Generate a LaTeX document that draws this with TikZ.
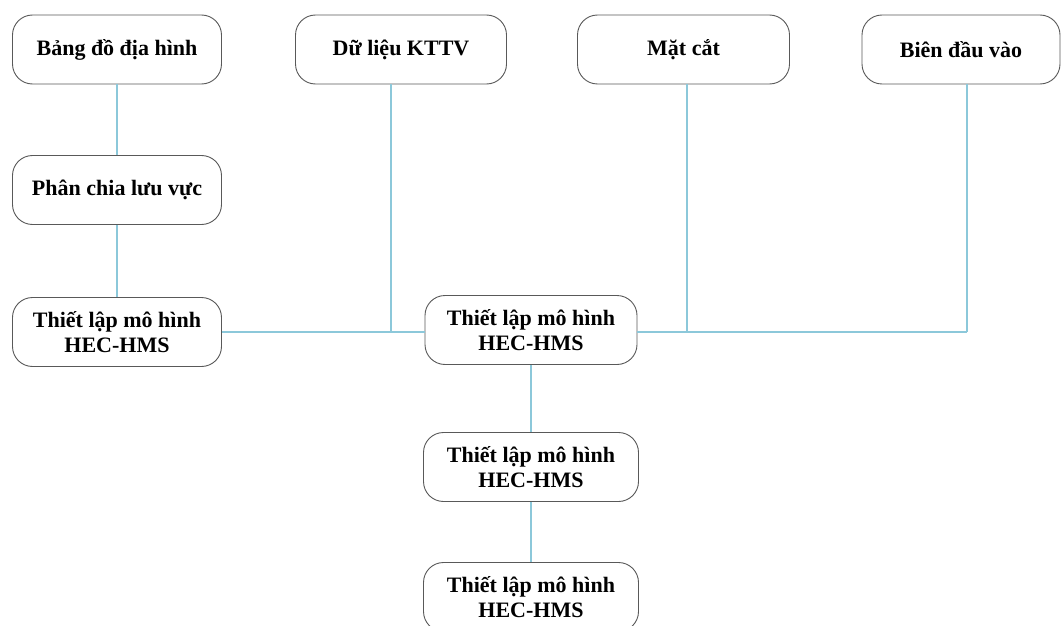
\documentclass[tikz,border=0pt]{standalone}
\usepackage{fontspec}
\setmainfont{Liberation Serif}
\begin{document}
\begin{tikzpicture}[x=1pt,y=-1pt,
  box/.style={draw=black!65, line width=0.9pt, rounded corners=20pt, fill=white,
    minimum width=209pt, minimum height=69pt, align=center, inner sep=0pt,
    font=\bfseries\fontsize{22}{25}\selectfont},
  lk/.style={draw={rgb,255:red,140;green,200;blue,218}, line width=1.5pt}]
\useasboundingbox (0,0) rectangle (1061,626);
\clip (0,0) rectangle (1061,626);
\fill[white] (0,0) rectangle (1061,626);
% top row
\node[box] (bd) at (117,49.5) {Bảng đồ địa hình};
\node[box, minimum width=211pt] (kt) at (401,49.5) {Dữ liệu KTTV};
\node[box, minimum width=212pt] (mc) at (683.5,49.5) {Mặt cắt};
\node[box, minimum width=198pt] (bv) at (961,49.5) {Biên đầu vào};
% left column
\node[box] (pc) at (117,190) {Phân chia lưu vực};
\node[box] (h1) at (117,332) {Thiết lập mô hình\\HEC-HMS};
% middle column
\node[box, minimum width=212pt] (h2) at (531,330) {Thiết lập mô hình\\HEC-HMS};
\node[box, minimum width=215pt] (h3) at (531,467) {Thiết lập mô hình\\HEC-HMS};
\node[box, minimum width=215pt] (h4) at (531,597) {Thiết lập mô hình\\HEC-HMS};
% junctions
\coordinate (jk) at (391,332);
\coordinate (jm) at (687,332);
\coordinate (jb) at (967,332);
% connectors
\draw[lk] (bd.south) -- (pc.north);
\draw[lk] (pc.south) -- (h1.north);
\draw[lk] (h1.east |- jk) -- (h2.west |- jk);
\draw[lk] (kt.south -| jk) -- (jk);
\draw[lk] (h2.east |- jb) -- (jb);
\draw[lk] (mc.south -| jm) -- (jm);
\draw[lk] (bv.south -| jb) -- (jb);
\draw[lk] (h2.south) -- (h3.north);
\draw[lk] (h3.south) -- (h4.north);
\end{tikzpicture}
\end{document}
